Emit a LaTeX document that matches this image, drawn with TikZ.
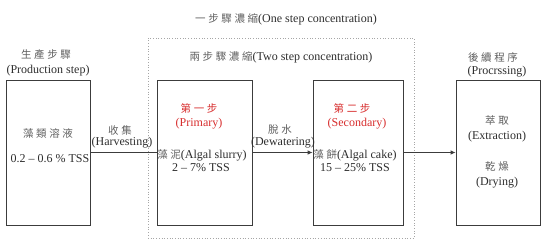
\documentclass[tikz,border=0pt]{standalone}
\usepackage{fontspec}
\setmainfont{Liberation Serif}
\newfontfamily\cjk[LetterSpace=25]{Noto Sans CJK TC}
\usetikzlibrary{arrows.meta}
\definecolor{ink}{RGB}{45,45,45}
\definecolor{boxline}{RGB}{60,60,60}
\definecolor{redtxt}{RGB}{215,45,45}
\definecolor{cjkgray}{RGB}{95,95,95}
\newcommand{\zh}[1]{{\cjk\fontsize{10.5}{13}\selectfont\color{cjkgray}#1}}
\begin{document}
\begin{tikzpicture}[x=1pt,y=-1pt,
  every node/.style={font=\fontsize{12}{14}\selectfont, text=ink, inner sep=0pt},
  stagebox/.style={draw=boxline, line width=0.8pt, rectangle},
  conn/.style={draw=boxline, line width=0.8pt},
  arr/.style={conn, -{Latex[length=5pt,width=4.5pt]}},
  redlbl/.style={text=redtxt}]
\useasboundingbox (0,0) rectangle (543,250);
% dotted group
\node[draw=gray!70, dotted, line width=0.7pt, minimum width=266pt, minimum height=200pt] (grp) at (281,138) {};
% boxes
\node[stagebox, minimum width=84pt, minimum height=145pt] (b1) at (48,152.5) {};
\node[stagebox, minimum width=95pt, minimum height=145pt] (b2) at (204.5,152.5) {};
\node[stagebox, minimum width=90pt, minimum height=145pt] (b3) at (358,152.5) {};
\node[stagebox, minimum width=84pt, minimum height=145pt] (b4) at (498,152.5) {};
% connectors
\draw[conn] (b1.east) -- (b2.west);
\draw[arr] (b2.east) -- (b3.west);
\draw[arr] (b3.east) -- (b4.west);
% headers
\node (h1) at (286,19) {\zh{一步驟濃縮}(One step concentration)};
\node (h2) at (281,57) {\zh{兩步驟濃縮}(Two step concentration)};
\node (p1) at (46,55) {\zh{生產步驟}};
\node (p2) at (48,71) {(Production step)};
\node (q1) at (493,57) {\zh{後續程序}};
\node (q2) at (497,72) {(Procrssing)};
% box 1
\node (t11) at (48,133) {\zh{藻類溶液}};
\node (t12) at (50,159) {0.2 -- 0.6 \% TSS};
% labels
\node (l1) at (120,130) {\zh{收集}};
\node (l2) at (122,143) {(Harvesting)};
\node (l3) at (280,130) {\zh{脫水}};
\node (l4) at (283,143) {(Dewatering)};
% box 2
\node[redlbl] (t21) at (199,108) {{\cjk\fontsize{10.5}{13}\selectfont 第一步}};
\node[redlbl] (t22) at (199,124) {(Primary)};
\node (t23) at (202,155) {\zh{藻泥}(Algal slurry)};
\node (t24) at (201,168) {2 -- 7\% TSS};
% box 3
\node[redlbl] (t31) at (352,108) {{\cjk\fontsize{10.5}{13}\selectfont 第二步}};
\node[redlbl] (t32) at (357,124) {(Secondary)};
\node (t33) at (355,155) {\zh{藻餅}(Algal cake)};
\node (t34) at (355,168) {15 -- 25\% TSS};
% box 4
\node (t41) at (497,120) {\zh{萃取}};
\node (t42) at (497,137) {(Extraction)};
\node (t43) at (497,167) {\zh{乾燥}};
\node (t44) at (497,183) {(Drying)};
\end{tikzpicture}
\end{document}
